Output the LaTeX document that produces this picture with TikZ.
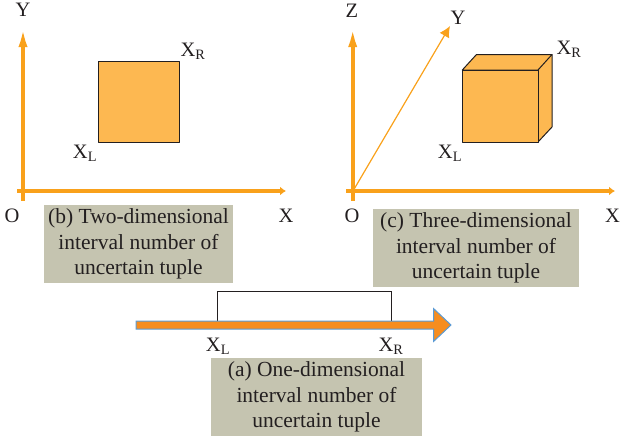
\documentclass[tikz,border=0pt]{standalone}
\usepackage{fontspec}
\setmainfont{Liberation Serif}
\usetikzlibrary{arrows.meta}
\definecolor{axisor}{HTML}{F9A11B}
\definecolor{boxfill}{HTML}{FDB851}
\definecolor{capfill}{HTML}{C5C4B0}
\definecolor{inkc}{HTML}{231F20}
\definecolor{barfill}{HTML}{F68D1F}
\definecolor{barline}{HTML}{5B9BD5}
\tikzset{
  axisline/.style={draw=axisor,line width=3.6pt,-{Latex[length=20pt,width=9pt]}},
  axishline/.style={draw=axisor,line width=3.6pt,-{Latex[length=6pt,width=9pt]}},
  thinaxis/.style={draw=axisor,line width=1.2pt,-{Latex[length=11pt,width=11pt]}},
  solid3d/.style={draw=inkc,line width=1pt,fill=boxfill,line join=round},
  caplabel/.style={fill=capfill,text=inkc,font=\fontsize{21.5}{25.5}\selectfont,align=center,inner sep=0pt,anchor=center},
  lab/.style={text=inkc,font=\fontsize{20.5}{22}\selectfont,inner sep=0pt,anchor=center},
}
\newcommand{\xl}{X\textsubscript{L}}
\newcommand{\xr}{X\textsubscript{R}}
\begin{document}
\begin{tikzpicture}[x=1pt,y=-1pt]
\useasboundingbox (0,0) rectangle (621,439);
% panel b
\coordinate (by0) at (23,201); \coordinate (by1) at (23,27);
\coordinate (bx0) at (17,191); \coordinate (bx1) at (286,191);
\draw[axisline] (by0) -- (by1);
\draw[axishline] (bx0) -- (bx1);
\draw[solid3d] (98,61) rectangle (179,142);
\node[lab] (bY) at (23,10) {Y};
\node[lab] (bXR) at (193,51) {\xr};
\node[lab] (bXL) at (85,153) {\xl};
\node[lab] (bO) at (12,216) {O};
\node[lab] (bX) at (286,216) {X};
\node[caplabel,minimum width=189pt,minimum height=78pt] (bcap) at (138.5,244) {(b) Two-dimensional\\interval number of\\uncertain tuple};
% panel c
\coordinate (cz0) at (352.7,201); \coordinate (cz1) at (352.7,27);
\coordinate (cx0) at (346,191); \coordinate (cx1) at (615,191);
\coordinate (cy0) at (353,191); \coordinate (cy1) at (450,26);
\draw[axisline] (cz0) -- (cz1);
\draw[axishline] (cx0) -- (cx1);
\draw[thinaxis] (cy0) -- (cy1);
\draw[solid3d] (462.3,70) -- (476.5,54.5) -- (552,54.5) -- (552,127) -- (538,142) -- (538,70) -- cycle;
\draw[solid3d] (538,70) -- (552,54.5);
\draw[solid3d] (462.3,70) rectangle (538,142);
\node[lab] (cZ) at (352,11) {Z};
\node[lab] (cY) at (458,18) {Y};
\node[lab] (cXR) at (569,49) {\xr};
\node[lab] (cXL) at (450,153) {\xl};
\node[lab] (cO) at (352,216) {O};
\node[lab] (cX) at (612.5,216) {X};
\node[caplabel,minimum width=206pt,minimum height=78pt] (ccap) at (476,248) {(c) Three-dimensional\\interval number of\\uncertain tuple};
% panel a
\coordinate (aL) at (217,321); \coordinate (aR) at (391,321);
\draw[draw=inkc,line width=1pt] (aL) -- (217,291) -- (391,291) -- (aR);
\draw[draw=barline,line width=1pt,fill=barfill,line join=miter]
  (136,321) -- (433.5,321) -- (433.5,308.5) -- (451,325) -- (433.5,341.5) -- (433.5,329) -- (136,329) -- cycle;
\node[lab] (aXL) at (218,346) {\xl};
\node[lab] (aXR) at (391,346) {\xr};
\node[caplabel,minimum width=211pt,minimum height=78pt] (acap) at (316.5,397) {(a) One-dimensional\\interval number of\\uncertain tuple};
\end{tikzpicture}
\end{document}
